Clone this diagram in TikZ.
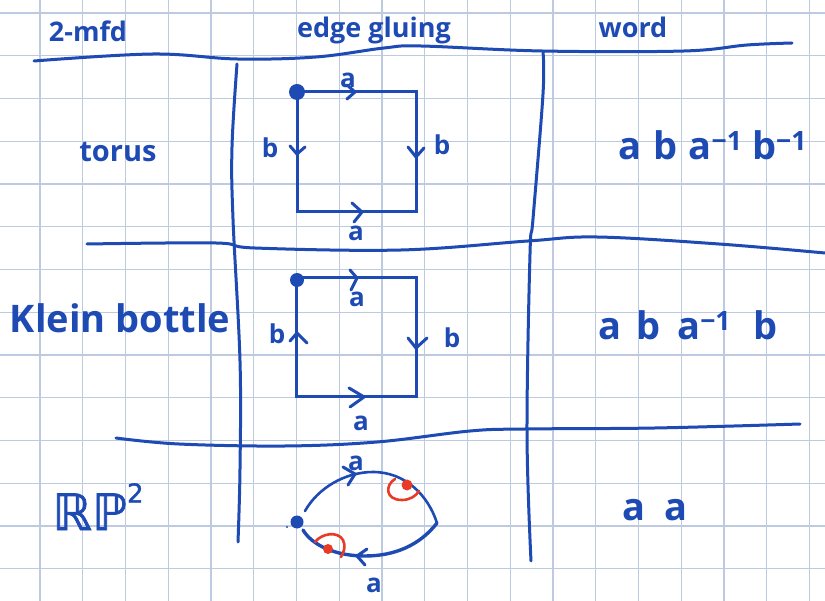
\documentclass[tikz,border=0pt]{standalone}
\usepackage{fontspec}
\setmainfont{Open Sans}
\newfontfamily\symfont{DejaVu Sans}[FakeBold=1.5]
\definecolor{ink}{RGB}{30,74,180}
\definecolor{gridc}{RGB}{190,202,224}
\definecolor{redink}{RGB}{232,58,38}
\tikzset{
  gridline/.style={gridc, line width=1.3pt},
  tline/.style={ink, line width=3pt, line cap=round, line join=round},
  sqline/.style={ink, line width=3pt, line join=miter},
  chev/.style={ink, line width=3pt, line cap=round, line join=round},
  redline/.style={redink, line width=2.6pt, line cap=round},
  hdr/.style={ink, font=\fontsize{27}{30}\selectfont\bfseries, anchor=base, inner sep=0pt},
  rowlab/.style={ink, anchor=base, inner sep=0pt},
  wordlab/.style={ink, font=\fontsize{38}{42}\selectfont\bfseries, anchor=base, inner sep=0pt},
  elab/.style={ink, font=\fontsize{26}{28}\selectfont\bfseries, inner sep=0pt},
  vdot/.style={ink, fill=ink}
}
\begin{document}
\begin{tikzpicture}[x=1pt,y=-1pt]
\useasboundingbox (0,0) rectangle (825,601);
\fill[white] (0,0) rectangle (825,601);
% grid paper
\foreach \i in {0,...,18} \draw[gridline] ({40+42.75*\i},0) -- ({40+42.75*\i},601);
\foreach \j in {0,...,13} \draw[gridline] (0,{13+42.75*\j}) -- (825,{13+42.75*\j});

% table lines
\draw[tline] plot[smooth, tension=0.6] coordinates {(34,61) (153,54) (237,59) (316,57) (384,48) (421,46) (542,51) (684,51) (747,45) (792,43)};
\draw[tline] plot[smooth, tension=0.6] coordinates {(237,64) (232,147) (233,219) (240,361) (240,469) (238,542)};
\draw[tline] plot[smooth, tension=0.6] coordinates {(543,52) (543,94) (533,219) (530,254) (527,433) (531,561)};
\draw[tline] plot[smooth, tension=0.6] coordinates {(87,244) (216,243) (255,248) (401,250) (528,241) (597,237) (719,244) (825,253)};
\draw[tline] plot[smooth, tension=0.6] coordinates {(116,438) (179,444) (285,446) (377,442) (470,431) (525,429) (655,428) (800,424)};

% headers
\node[hdr] (h1) at (88,42) {2-mfd};
\node[hdr] (h2) at (374,38) {edge gluing};
\node[hdr] (h3) at (633,38) {word};

% row labels
\node[rowlab, font=\fontsize{29}{32}\selectfont\bfseries] (r1) at (118,162) {torus};
\node[rowlab, font=\fontsize{38}{42}\selectfont\bfseries] (r2) at (120,333) {Klein bottle};
\node[rowlab, font=\fontsize{50}{54}\selectfont\symfont] (r3) at (98,530) {ℝℙ\raisebox{0.55em}{\fontsize{26}{28}\selectfont 2}};

% torus square
\coordinate (t1) at (297,92);
\coordinate (t2) at (416,92);
\coordinate (t3) at (416,212);
\coordinate (t4) at (297,212);
\draw[sqline] (t1) -- (t2) -- (t3) -- (t4) -- cycle;
\fill[vdot] (t1) circle (8);
\draw[chev] (347,85) -- (355,92) -- (347,99);
\draw[chev] (352,203) -- (362,212) -- (354,222);
\draw[chev] (290,146) -- (297,154) -- (305,147);
\draw[chev] (408,147) -- (416,157) -- (424,148);
\node[elab] (ta1) at (348,80) {a};
\node[elab] (ta2) at (356,233) {a};
\node[elab] (tb1) at (270,148) {b};
\node[elab] (tb2) at (442,145) {b};

% Klein square
\coordinate (k1) at (296,278);
\coordinate (k2) at (416,278);
\coordinate (k3) at (416,397);
\coordinate (k4) at (296,397);
\draw[sqline] (k1) -- (k2) -- (k3) -- (k4) -- cycle;
\fill[vdot] (297,280) circle (7);
\draw[chev] (350,270) -- (357,278) -- (351,290);
\draw[chev] (349,388) -- (364,397) -- (350,407);
\draw[chev] (290,341) -- (297,333) -- (307,343);
\draw[chev] (408,338) -- (416,348) -- (427,338);
\node[elab] (ka1) at (357,299) {a};
\node[elab] (ka2) at (361,423) {a};
\node[elab] (kb1) at (277,334) {b};
\node[elab] (kb2) at (452,338) {b};

% RP^2 disc
\coordinate (p0) at (297,522);
\coordinate (pr) at (437,523);
\draw[ink, line width=2.6pt, line cap=round] (305,511) .. controls (318,488) and (345,472) .. (373,472) .. controls (405,472) and (428,495) .. (pr);
\draw[ink, line width=3.4pt, line cap=round] (pr) .. controls (420,545) and (395,556) .. (365,556) .. controls (335,556) and (312,545) .. (303,530);
\fill[vdot] (p0) circle (6.5);
\fill[vdot] (287,527) circle (1.2);
\draw[chev] (343,467) -- (355,474) -- (348,485);
\draw[chev] (367,549) -- (357,556) -- (365,565);
\node[elab] (pa1) at (356,463) {a};
\node[elab] (pa2) at (374,585) {a};
% red marks
\fill[redink] (407,485) circle (5.5);
\draw[redline] (395,479) .. controls (385,485) and (385,500) .. (402,500) .. controls (410,500) and (416,496) .. (419,491);
\fill[redink] (328,549) circle (5);
\draw[redline] (315,542) .. controls (322,533) and (338,531) .. (343,540) .. controls (346,546) and (344,552) .. (341,557);

% words
\node[wordlab] (w1) at (713,160) {a\hspace{.3em}b\hspace{.3em}a\textsuperscript{−1}\hspace{.25em}b\textsuperscript{−1}};
\node[wordlab] (w2) at (688,340) {a\hspace{.4em}b\hspace{.45em}a\textsuperscript{−1}\hspace{.6em}b};
\node[wordlab] (w3) at (655,520) {a\hspace{.5em}a};
\end{tikzpicture}
\end{document}
